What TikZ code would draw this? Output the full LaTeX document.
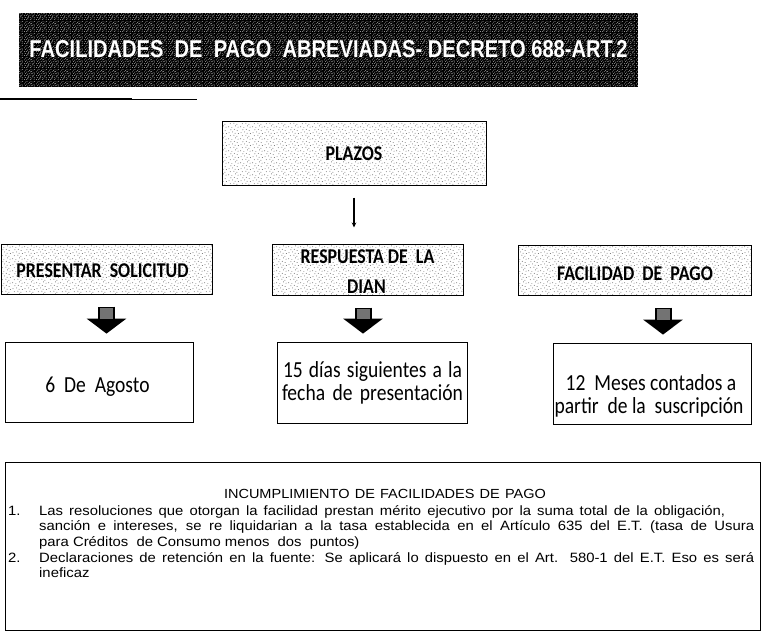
\documentclass[tikz,border=0pt]{standalone}
\usepackage{graphicx}
\usepackage{fontspec}
\setmainfont{Liberation Sans}
\newfontfamily\calfont[FakeStretch=0.85]{Carlito}
\newfontfamily\bodyfont[FakeStretch=1.1]{Liberation Sans}
\newcommand\justline[2]{\hbox to #1{\spaceskip=\fontdimen2\font plus 1fil\relax #2}}
\usetikzlibrary{patterns,arrows.meta,calc}
\pgfdeclarepatternformonly{stipple}{\pgfpointorigin}{\pgfpoint{12pt}{12pt}}{\pgfpoint{12pt}{12pt}}{%
  \foreach \x/\y in {0.7/1.3,4.2/0.4,8.1/2.2,10.9/0.9,2.5/4.6,6.3/5.1,9.6/4.0,1.1/7.8,4.9/8.6,7.7/7.2,11.2/6.9,3.1/10.9,6.8/11.3,9.9/10.1}{%
    \pgfpathcircle{\pgfpoint{\x pt}{\y pt}}{0.5pt}}%
  \pgfusepath{fill}}
\pgfdeclarepatternformonly{speckle}{\pgfpointorigin}{\pgfpoint{12pt}{12pt}}{\pgfpoint{12pt}{12pt}}{%
  \foreach \x/\y in {0.4/0.6,2.7/0.3,4.3/1.1,6.8/0.5,8.5/1.2,10.9/0.7,
    1.3/2.6,3.6/2.2,5.2/3.0,7.4/2.4,9.7/3.1,11.5/2.3,
    0.6/4.5,2.4/4.9,4.8/4.2,6.5/5.0,8.9/4.4,10.6/5.1,
    1.7/6.8,3.9/6.3,5.6/7.1,7.8/6.6,9.4/7.3,11.3/6.5,
    0.3/8.7,2.9/8.4,4.5/9.2,6.9/8.6,8.3/9.0,10.8/8.3,
    1.5/10.6,3.2/11.2,5.9/10.4,7.5/11.0,9.8/10.7,11.6/11.3}{%
    \pgfpathcircle{\pgfpoint{\x pt}{\y pt}}{0.42pt}}%
  \pgfusepath{fill}}
\begin{document}
\begin{tikzpicture}[x=1pt,y=-1pt,
  titlebox/.style={rectangle, inner sep=0, preaction={fill=black}, pattern=speckle, pattern color=white},
  stipbox/.style={rectangle, draw, line width=1pt, inner sep=0, preaction={fill=white}, pattern=stipple, pattern color=black!60},
  plainbox/.style={rectangle, draw, line width=0.8pt, inner sep=0},
  lblB/.style={font=\calfont\bfseries\fontsize{21}{25}\selectfont, inner sep=0, anchor=base},
  lblR/.style={font=\calfont\fontsize{23}{27}\selectfont, inner sep=0, anchor=base},
  body/.style={font=\bodyfont\fontsize{13.5}{16}\selectfont, inner sep=0, anchor=base west},
  barrow/.style={line width=17pt, black, -{Triangle[width=39pt,length=15pt]}},
  bshaft/.style={line width=13pt, black!55, shorten <=1.5pt, shorten >=15pt},
  conn/.style={line width=1.6pt, -{Stealth[length=5pt,width=4.5pt]}}
]
\useasboundingbox (0,0) rectangle (767,632);

% title
\node[titlebox, minimum width=619pt, minimum height=74pt] (title) at (328.5,50) {};
\node[inner sep=0, anchor=base, text=white] (titletext) at (328.5,57)
  {\resizebox{598pt}{17pt}{\bfseries FACILIDADES\ \ DE\ \ PAGO\ \ ABREVIADAS-\ DECRETO 688-ART.2}};
\coordinate (ul1) at (0,99);
\coordinate (ul2) at (132,99);
\coordinate (ul3) at (197,99);
\draw[line width=1.6pt] (ul1) -- (ul2);
\draw[line width=0.6pt] (ul2) -- (ul3);

% boxes
\node[stipbox, minimum width=264pt, minimum height=64pt] (plazos) at (354,153) {};
\node[stipbox, minimum width=211pt, minimum height=50pt] (pres) at (106.5,269) {};
\node[stipbox, minimum width=191pt, minimum height=51pt] (resp) at (367.5,269.5) {};
\node[stipbox, minimum width=233pt, minimum height=50pt] (fac) at (634.5,270) {};
\node[plainbox, minimum width=188pt, minimum height=80pt] (ago) at (99,382) {};
\node[plainbox, minimum width=190pt, minimum height=81pt] (dias) at (372,382.5) {};
\node[plainbox, minimum width=198pt, minimum height=81pt] (mes) at (652,383.5) {};
\node[plainbox, minimum width=755pt, minimum height=168pt] (inc) at (382.5,546) {};

% labels
\node[lblB] (tplazos) at (354,160) {PLAZOS};
\node[lblB] (tpres) at (102.5,277) {PRESENTAR\ \ SOLICITUD};
\node[lblB] (tresp1) at (367.5,263) {RESPUESTA DE\ \ LA};
\node[lblB] (tresp2) at (366.5,293) {DIAN};
\node[lblB] (tfac) at (635,280) {FACILIDAD\ \ DE\ \ PAGO};
\node[lblR] (tago) at (97.5,392) {6\ \ De\ \ Agosto};
\node[lblR] (tdias1) at (372.5,377) {\justline{179pt}{15 días siguientes a la}};
\node[lblR] (tdias2) at (372.5,400) {\justline{181pt}{fecha de presentación}};
\node[lblR] (tmes1) at (651,390) {12\ \ Meses contados a};
\node[lblR] (tmes2) at (649,413) {partir\ \ de la\ \ suscripción};

% connectors
\draw[conn] ([yshift=-12pt]plazos.south) -- ([yshift=16pt]resp.north -| plazos.south);
\foreach \a/\b/\dx in {pres/ago/0, resp/dias/-4.5, fac/mes/28.5}{
  \draw[barrow] ([xshift=\dx pt, yshift=-12pt]\a.south) -- ([xshift=\dx pt, yshift=8pt]\a.south |- \b.north);
  \draw[bshaft] ([xshift=\dx pt, yshift=-12pt]\a.south) -- ([xshift=\dx pt, yshift=8pt]\a.south |- \b.north);
}

% bottom text
\node[body, anchor=base, font=\bodyfont\fontsize{13.2}{16}\selectfont] (inctitle) at (385,498)
  {\justline{322pt}{INCUMPLIMIENTO DE FACILIDADES DE PAGO}};
\node[body] (n1) at (8,515) {1.};
\node[body] (l1) at (39,515) {\justline{686pt}{Las resoluciones que otorgan la facilidad prestan mérito ejecutivo por la suma total de la obligación,}};
\node[body] (l2) at (39,530.5) {\justline{715pt}{sanción e intereses, se re liquidarian a la tasa establecida en el Artículo 635 del E.T. (tasa de Usura}};
\node[body] (l3) at (39,546) {para Créditos\ \ de Consumo menos\ \ dos\ \ puntos)};
\node[body] (n2) at (8,562) {2.};
\node[body] (l4) at (39,562) {\justline{715pt}{Declaraciones de retención en la fuente: Se aplicará lo dispuesto en el Art. 580-1 del E.T. Eso es será}};
\node[body] (l5) at (39,577) {ineficaz};
\end{tikzpicture}
\end{document}
